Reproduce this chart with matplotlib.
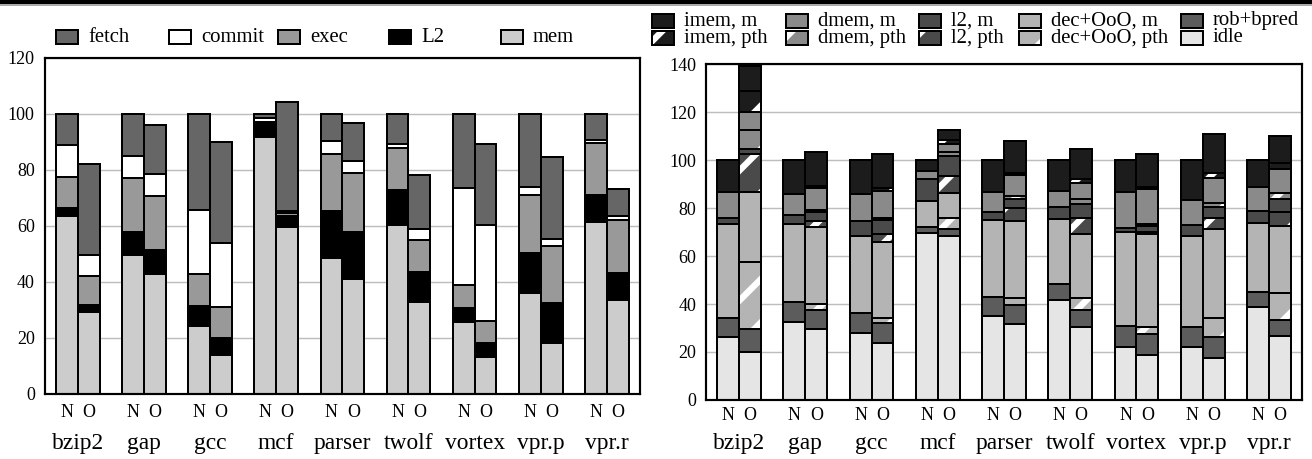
"""Two stacked-bar panels: cycle breakdown (left) and energy breakdown (right),
N = baseline, O = optimised, per SPEC benchmark."""

import matplotlib.pyplot as plt
import numpy as np
from matplotlib.patches import Rectangle
from matplotlib.transforms import blended_transform_factory

DPI = 130
W, H = 1312, 459

plt.rcParams.update(
    {
        "font.family": ["Liberation Serif", "DejaVu Serif"],
        "hatch.linewidth": 3.5,
        "axes.edgecolor": "black",
    }
)

benchmarks = ["bzip2", "gap", "gcc", "mcf", "parser", "twolf", "vortex", "vpr.p", "vpr.r"]

# ---- left panel (bottom -> top: mem, L2, exec, commit, fetch) ----
mem_n = [63.4, 49.7, 24.3, 91.9, 48.5, 60.5, 25.7, 36.0, 61.5]
l2_n = [3.1, 8.1, 7.3, 4.5, 16.9, 12.4, 5.1, 14.5, 9.5]
exec_n = [11.0, 19.3, 11.2, 0.8, 20.2, 14.9, 8.2, 20.7, 18.7]
commit_n = [11.3, 8.0, 23.0, 1.3, 4.6, 1.6, 34.5, 2.7, 1.1]
fetch_n = [11.2, 14.9, 34.2, 1.5, 9.8, 10.6, 26.5, 26.1, 9.2]

mem_o = [29.2, 42.8, 13.8, 59.8, 41.2, 32.7, 13.2, 18.1, 33.6]
l2_o = [2.7, 8.8, 6.2, 3.8, 16.7, 10.9, 4.9, 14.3, 9.5]
exec_o = [10.2, 19.0, 11.2, 1.0, 20.9, 11.3, 8.0, 20.6, 19.2]
commit_o = [7.7, 8.1, 22.8, 0.7, 4.3, 4.2, 34.1, 2.3, 1.3]
fetch_o = [32.4, 17.2, 36.1, 39.0, 13.7, 19.0, 29.2, 29.4, 9.5]

# ---- right panel (bottom -> top) ----
idle_n = [26.1, 32.6, 27.8, 69.4, 35.0, 41.7, 22.2, 22.2, 38.9]
rob_n = [8.2, 8.1, 8.3, 2.5, 7.8, 6.5, 8.6, 8.4, 6.2]
dec_m_n = [39.0, 32.5, 32.4, 11.2, 32.2, 27.2, 39.1, 37.9, 28.8]
l2_m_n = [2.7, 3.9, 6.1, 8.8, 3.2, 5.2, 1.9, 4.4, 5.0]
dmem_m_n = [10.5, 8.7, 11.1, 3.5, 8.6, 6.5, 14.7, 10.4, 10.0]
imem_m_n = [13.5, 14.2, 14.3, 4.6, 13.2, 12.9, 13.5, 16.7, 11.1]

idle_o = [20.1, 29.4, 23.6, 68.3, 31.7, 30.6, 18.6, 17.4, 26.7]
rob_o = [9.3, 8.1, 8.3, 2.8, 7.9, 6.9, 8.9, 9.0, 6.6]
dec_p_o = [28.2, 2.5, 2.3, 4.6, 2.8, 4.9, 2.8, 7.6, 11.1]
dec_m_o = [29.2, 32.2, 31.8, 10.4, 32.3, 26.6, 39.0, 37.25, 28.2]
l2_p_o = [15.6, 2.2, 3.0, 7.4, 5.2, 7.0, 0.8, 4.75, 5.9]
l2_m_o = [2.2, 3.8, 6.0, 8.3, 3.9, 5.5, 2.5, 4.6, 5.25]
dmem_p_o = [7.9, 1.0, 1.0, 1.4, 1.2, 2.25, 0.7, 1.3, 2.65]
dmem_m_o = [7.5, 9.3, 11.2, 3.3, 8.75, 6.55, 14.6, 10.7, 9.7]
imem_p_o = [8.9, 0.7, 1.0, 1.8, 0.95, 1.8, 0.85, 2.1, 2.8]
imem_m_o = [10.4, 14.0, 14.2, 4.2, 13.4, 12.3, 13.65, 16.1, 11.2]

# colours
C_FETCH, C_COMMIT, C_EXEC, C_L2, C_MEM = "#666666", "white", "#999999", "black", "#cccccc"
C_IMEM, C_DMEM, C_L2R, C_DEC, C_ROB, C_IDLE = "#1c1c1c", "#8a8a8a", "#4a4a4a", "#b4b4b4", "#5c5c5c", "#e5e5e5"

BAR_W = 0.33
OFF = BAR_W / 2
EDGE_LW = 1.1


def stack(ax, xs, series, colors, hatched=None):
    hatched = hatched or [False] * len(series)
    bottom = np.zeros(len(xs))
    for vals, fc, hat in zip(series, colors, hatched):
        vals = np.asarray(vals, dtype=float)
        if hat:
            ax.bar(xs, vals, BAR_W, bottom=bottom, color=fc, edgecolor="white",
                   hatch="/", linewidth=0, zorder=2)
            ax.bar(xs, vals, BAR_W, bottom=bottom, fill=False, edgecolor="black",
                   linewidth=EDGE_LW, zorder=3)
        else:
            ax.bar(xs, vals, BAR_W, bottom=bottom, color=fc, edgecolor="black",
                   linewidth=EDGE_LW, zorder=2)
        bottom += vals


def setup_axes(ax, ymax):
    ax.set_xlim(-0.5, len(benchmarks) - 0.5)
    ax.set_ylim(0, ymax)
    ax.set_yticks(np.arange(0, ymax + 1, 20))
    ax.set_xticks([])
    ax.tick_params(axis="y", length=0, pad=5.5, labelsize=10)
    ax.yaxis.grid(True, color="#bdbdbd", linewidth=0.8)
    ax.set_axisbelow(True)
    for s in ax.spines.values():
        s.set_linewidth(1.2)


def x_labels(fig, ax, no_y, cat_y):
    trans = blended_transform_factory(ax.transData, fig.transFigure)
    for i, name in enumerate(benchmarks):
        ax.text(i - OFF, 1 - no_y / H, "N", transform=trans, ha="center", va="baseline", fontsize=10)
        ax.text(i + OFF, 1 - no_y / H, "O", transform=trans, ha="center", va="baseline", fontsize=10)
        ax.text(i, 1 - cat_y / H, name, transform=trans, ha="center", va="baseline", fontsize=13)


def legend_item(fig, x, y, label, fc, hatched=False):
    pw, ph = 22, 13
    rect = (x / W, 1 - (y + ph / 2) / H)
    if hatched:
        fig.add_artist(Rectangle(rect, pw / W, ph / H, transform=fig.transFigure,
                                 facecolor=fc, edgecolor="white", hatch="/", linewidth=0))
        fig.add_artist(Rectangle(rect, pw / W, ph / H, transform=fig.transFigure,
                                 fill=False, edgecolor="black", linewidth=EDGE_LW))
    else:
        fig.add_artist(Rectangle(rect, pw / W, ph / H, transform=fig.transFigure,
                                 facecolor=fc, edgecolor="black", linewidth=EDGE_LW))
    fig.text((x + 32) / W, 1 - y / H, label, ha="left", va="center", fontsize=11.5)


fig = plt.figure(figsize=(W / DPI, H / DPI), dpi=DPI)
ax1 = fig.add_axes([44.7 / W, 1 - 394 / H, 595.3 / W, 336 / H])
ax2 = fig.add_axes([706 / W, 1 - 400 / H, 596 / W, 336 / H])

x = np.arange(len(benchmarks))

# left panel
setup_axes(ax1, 120)
stack(ax1, x - OFF, [mem_n, l2_n, exec_n, commit_n, fetch_n],
      [C_MEM, C_L2, C_EXEC, C_COMMIT, C_FETCH])
stack(ax1, x + OFF, [mem_o, l2_o, exec_o, commit_o, fetch_o],
      [C_MEM, C_L2, C_EXEC, C_COMMIT, C_FETCH])
x_labels(fig, ax1, 417, 449)

# right panel
setup_axes(ax2, 140)
stack(ax2, x - OFF, [idle_n, rob_n, dec_m_n, l2_m_n, dmem_m_n, imem_m_n],
      [C_IDLE, C_ROB, C_DEC, C_L2R, C_DMEM, C_IMEM])
stack(ax2, x + OFF,
      [idle_o, rob_o, dec_p_o, dec_m_o, l2_p_o, l2_m_o, dmem_p_o, dmem_m_o, imem_p_o, imem_m_o],
      [C_IDLE, C_ROB, C_DEC, C_DEC, C_L2R, C_L2R, C_DMEM, C_DMEM, C_IMEM, C_IMEM],
      [False, False, True, False, True, False, True, False, True, False])
x_labels(fig, ax2, 420, 449)

# legends
for px, lab, fc in zip([56, 169, 278, 389, 501],
                       ["fetch", "commit", "exec", "L2", "mem"],
                       [C_FETCH, C_COMMIT, C_EXEC, C_L2, C_MEM]):
    legend_item(fig, px, 37, lab, fc)

right_cols = [652, 786, 919, 1019, 1181]
for px, lab, fc in zip(right_cols,
                       ["imem, m", "dmem, m", "l2, m", "dec+OoO, m", "rob+bpred"],
                       [C_IMEM, C_DMEM, C_L2R, C_DEC, C_ROB]):
    legend_item(fig, px, 21, lab, fc)
for px, lab, fc, hat in zip(right_cols,
                            ["imem, pth", "dmem, pth", "l2, pth", "dec+OoO, pth", "idle"],
                            [C_IMEM, C_DMEM, C_L2R, C_DEC, C_IDLE],
                            [True, True, True, True, False]):
    legend_item(fig, px, 38, lab, fc, hat)

# black rule across the top
fig.add_artist(Rectangle((0, 1 - 4 / H), 1, 4 / H, transform=fig.transFigure,
                         facecolor="black", edgecolor="none"))
fig.add_artist(Rectangle((0, 1 - 5.5 / H), 1, 1.2 / H, transform=fig.transFigure,
                         facecolor="#aaaaaa", edgecolor="none"))

fig.savefig("out.png", dpi=DPI)
